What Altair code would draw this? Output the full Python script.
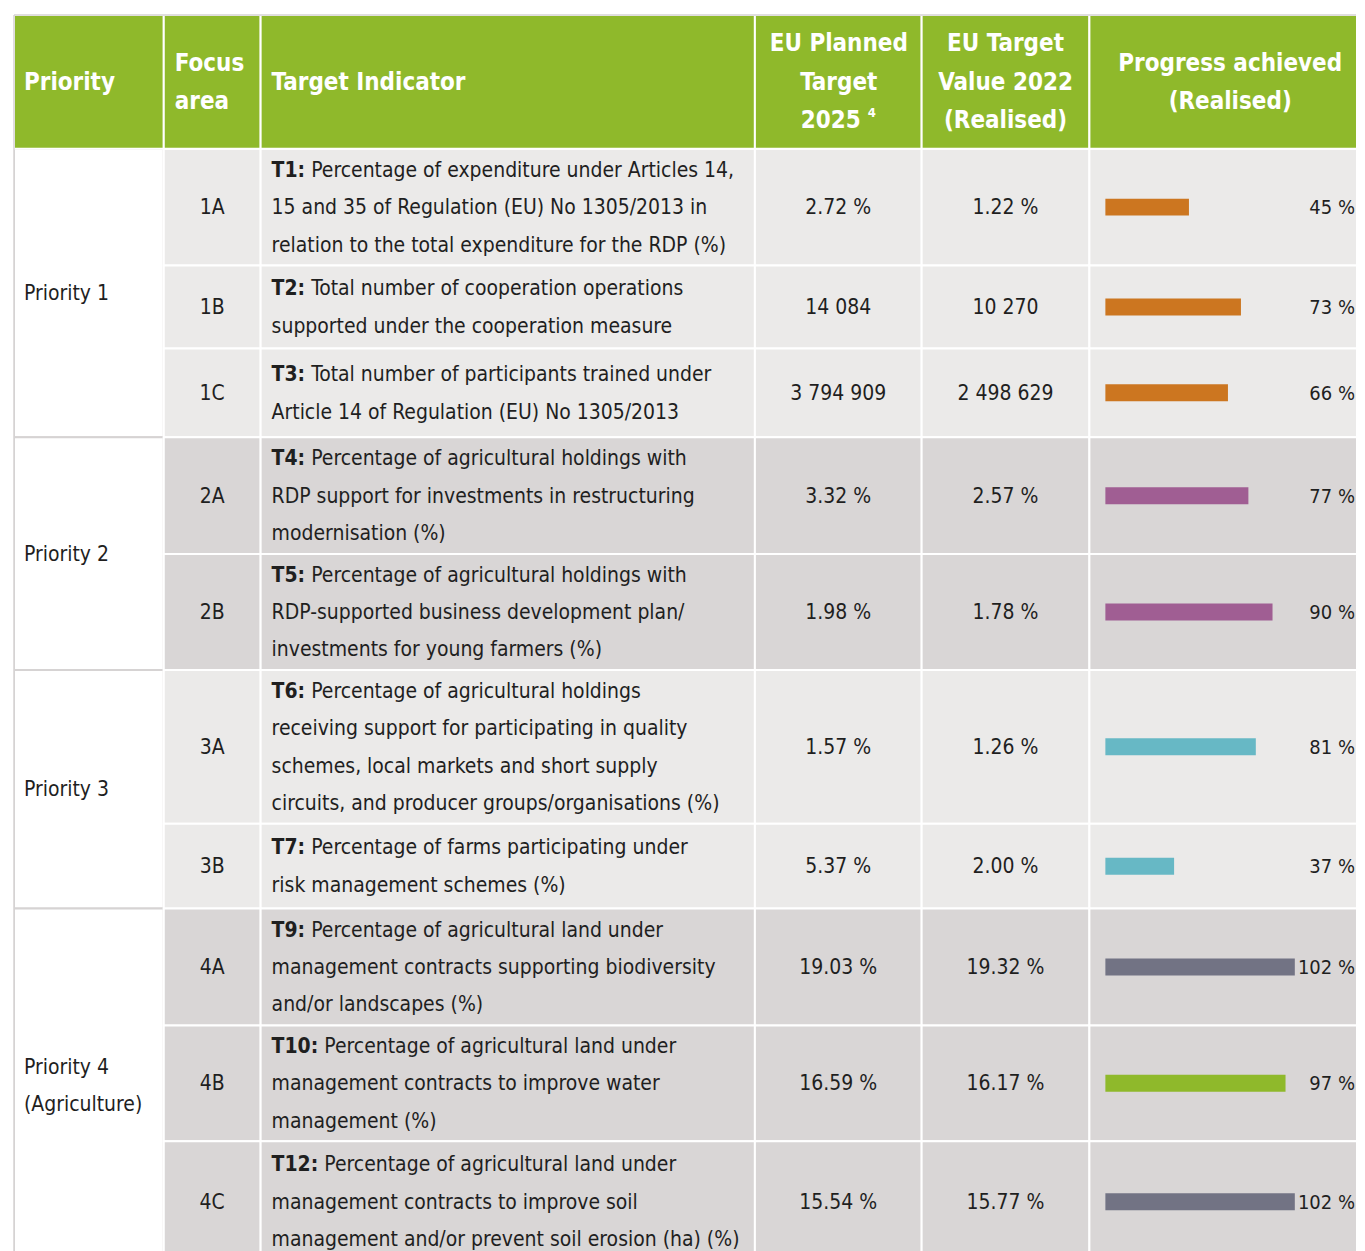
import altair as alt
import pandas as pd

# ---------------- data ----------------
priorities = ["Priority 1", "Priority 2", "Priority 3", "Priority 4|(Agriculture)"]
row_priority = [0, 0, 0, 1, 1, 2, 2, 3, 3, 3]
focus_areas = ["1A", "1B", "1C", "2A", "2B", "3A", "3B", "4A", "4B", "4C"]
codes = ["T1:", "T2:", "T3:", "T4:", "T5:", "T6:", "T7:", "T9:", "T10:", "T12:"]
indicator_lines = [
    ["Percentage of expenditure under Articles 14,",
     "15 and 35 of Regulation (EU) No 1305/2013 in",
     "relation to the total expenditure for the RDP (%)"],
    ["Total number of cooperation operations",
     "supported under the cooperation measure"],
    ["Total number of participants trained under",
     "Article 14 of Regulation (EU) No 1305/2013"],
    ["Percentage of agricultural holdings with",
     "RDP support for investments in restructuring",
     "modernisation (%)"],
    ["Percentage of agricultural holdings with",
     "RDP-supported business development plan/",
     "investments for young farmers (%)"],
    ["Percentage of agricultural holdings",
     "receiving support for participating in quality",
     "schemes, local markets and short supply",
     "circuits, and producer groups/organisations (%)"],
    ["Percentage of farms participating under",
     "risk management schemes (%)"],
    ["Percentage of agricultural land under",
     "management contracts supporting biodiversity",
     "and/or landscapes (%)"],
    ["Percentage of agricultural land under",
     "management contracts to improve water",
     "management (%)"],
    ["Percentage of agricultural land under",
     "management contracts to improve soil",
     "management and/or prevent soil erosion (ha) (%)"],
]
planned_2025 = ["2.72 %", "14 084", "3 794 909", "3.32 %", "1.98 %",
                "1.57 %", "5.37 %", "19.03 %", "16.59 %", "15.54 %"]
realised_2022 = ["1.22 %", "10 270", "2 498 629", "2.57 %", "1.78 %",
                 "1.26 %", "2.00 %", "19.32 %", "16.17 %", "15.77 %"]
progress_pct = [45, 73, 66, 77, 90, 81, 37, 102, 97, 102]

header_cols = [
    ["Priority"],
    ["Focus", "area"],
    ["Target Indicator"],
    ["EU Planned", "Target", "2025"],
    ["EU Target", "Value 2022", "(Realised)"],
    ["Progress achieved", "(Realised)"],
]

# ---------------- style / layout ----------------
FONT = "DejaVu Sans Condensed"
TEXT = "#1f1f1f"
GREEN = "#8FB92B"
LIGHT = "#EBEAE9"
DARK = "#D9D6D6"
BORDER = "#D6D3D3"
bar_colors = ["#CC7620", "#CC7620", "#CC7620", "#A05E93", "#A05E93",
              "#67B8C5", "#67B8C5", "#727384", "#8FB92B", "#727384"]

W, H = 1344, 1249
col_edges = [0, 150, 247, 742, 909, 1077, W]
header_h = 134
row_heights = [117, 83, 89, 117, 116, 154, 85, 117, 116, 121]
LH = 37.5
FS = 21
PFS = 20
HFS = 24
HLH = 38.5

tops = []
t = header_h
for h in row_heights:
    tops.append(t)
    t += h
bottoms = [tp + h for tp, h in zip(tops, row_heights)]
centers = [(a + b) / 2 for a, b in zip(tops, bottoms)]

# ---------------- frames ----------------
header_rects = pd.DataFrame([
    {"x": col_edges[j], "x2": col_edges[j + 1] + (6 if j == 5 else 0), "y": 0, "y2": header_h}
    for j in range(6)
])

cells = []
for i in range(len(focus_areas)):
    fill = LIGHT if row_priority[i] % 2 == 0 else DARK
    for j in range(1, 6):
        cells.append({"x": col_edges[j], "x2": col_edges[j + 1] + (6 if j == 5 else 0),
                      "y": tops[i], "y2": bottoms[i] + (6 if i == 9 else 0), "fill": fill})
cells = pd.DataFrame(cells)

prio_rects = []
prio_labels = []
for g, name in enumerate(priorities):
    rows = [i for i, p in enumerate(row_priority) if p == g]
    y0, y1 = tops[rows[0]], bottoms[rows[-1]]
    prio_rects.append({"x": 0, "x2": col_edges[1], "y": y0, "y2": y1 + (6 if g == 3 else 0)})
    parts = name.split("|")
    for k, part in enumerate(parts):
        prio_labels.append({"x": 10, "y": (y0 + y1) / 2 + 1 + (k - (len(parts) - 1) / 2) * LH,
                            "text": part})
prio_rects = pd.DataFrame(prio_rects)
prio_labels = pd.DataFrame(prio_labels)

# header text
h_left, h_center = [], []
left_x = [10, 161, 258]
center_x = [None, None, None, 826, 993, 1218]
for j, lines in enumerate(header_cols):
    n = len(lines)
    for k, line in enumerate(lines):
        yy = header_h / 2 + 1 + (k - (n - 1) / 2) * HLH
        if j < 3:
            h_left.append({"x": left_x[j], "y": yy, "text": line})
        else:
            xx = center_x[j] - (8 if (j == 3 and k == 2) else 0)
            h_center.append({"x": xx, "y": yy, "text": line})
h_left = pd.DataFrame(h_left)
h_center = pd.DataFrame(h_center)
sup = pd.DataFrame([{"x": 855, "y": header_h / 2 + 1 + HLH - 8, "text": "4"}])

# body text (bold code + regular rest on the first line)
bold_em = {"T": 0.615, ":": 0.36}
for d in "0123456789":
    bold_em[d] = 0.626
SPACE_EM = 0.286
code_rows, rest_rows = [], []
for i, lines in enumerate(indicator_lines):
    n = len(lines)
    for k, line in enumerate(lines):
        yy = centers[i] + 1 + (k - (n - 1) / 2) * LH
        if k == 0:
            cw = (sum(bold_em[c] for c in codes[i]) + SPACE_EM) * FS
            code_rows.append({"x": 258, "y": yy, "text": codes[i]})
            rest_rows.append({"x": 258 + cw, "y": yy, "text": line})
        else:
            rest_rows.append({"x": 258, "y": yy, "text": line})
code_rows = pd.DataFrame(code_rows)
rest_rows = pd.DataFrame(rest_rows)

center_rows = []
for i in range(len(focus_areas)):
    center_rows.append({"x": (col_edges[1] + col_edges[2]) / 2, "y": centers[i] + 1, "text": focus_areas[i]})
    center_rows.append({"x": (col_edges[3] + col_edges[4]) / 2, "y": centers[i] + 1, "text": planned_2025[i]})
    center_rows.append({"x": (col_edges[4] + col_edges[5]) / 2, "y": centers[i] + 1, "text": realised_2022[i]})
center_rows = pd.DataFrame(center_rows)

prog = pd.DataFrame({
    "start": [0] * len(progress_pct),
    "value": progress_pct,
    "label": [f"{v} %" for v in progress_pct],
    "y": [c - 8.5 for c in centers],
    "y2": [c + 8.5 for c in centers],
    "yc": [c + 1 for c in centers],
    "lx": [W - 1] * len(progress_pct),
    "color": bar_colors,
})

# ---------------- chart ----------------
xs = alt.Scale(domain=[0, W], range=[0, W])
ys = alt.Scale(domain=[0, H], reverse=True)


def X(f):
    return alt.X(f, type="quantitative", scale=xs, axis=None)


def Y(f):
    return alt.Y(f, type="quantitative", scale=ys, axis=None)


prio_layer = alt.Chart(prio_rects).mark_rect(
    fill="white", stroke=BORDER, strokeWidth=2, clip=True
).encode(x=X("x"), x2="x2", y=Y("y"), y2="y2")

cell_layer = alt.Chart(cells).mark_rect(
    stroke="white", strokeWidth=2, clip=True
).encode(x=X("x"), x2="x2", y=Y("y"), y2="y2",
         fill=alt.Fill("fill:N", scale=None, legend=None))

header_layer = alt.Chart(header_rects).mark_rect(
    fill=GREEN, stroke="white", strokeWidth=2, clip=True
).encode(x=X("x"), x2="x2", y=Y("y"), y2="y2")

top_rule = alt.Chart(pd.DataFrame({"x": [0], "x2": [W], "y": [0]})).mark_rule(
    color=BORDER, strokeWidth=1.5
).encode(x=X("x"), x2="x2", y=Y("y"))
left_rule = alt.Chart(pd.DataFrame({"x": [0], "y": [0], "y2": [H]})).mark_rule(
    color=BORDER, strokeWidth=1.5
).encode(x=X("x"), y=Y("y"), y2="y2")


def text_layer(df, align, weight="normal", size=FS, color=TEXT):
    return alt.Chart(df).mark_text(
        align=align, baseline="middle", font=FONT, fontSize=size,
        fontWeight=weight, color=color
    ).encode(x=X("x"), y=Y("y"), text="text:N")


hl = text_layer(h_left, "left", "bold", HFS, "white")
hc = text_layer(h_center, "center", "bold", HFS, "white")
hs = text_layer(sup, "left", "bold", 13, "white")
pl = text_layer(prio_labels, "left")
codes_l = text_layer(code_rows, "left", "bold")
rest_l = text_layer(rest_rows, "left")
cen_l = text_layer(center_rows, "center")

bars = alt.Chart(prog).mark_rect().encode(
    x=alt.X("start:Q", scale=alt.Scale(domain=[0, 100], range=[1093, 1279]), axis=None),
    x2="value:Q",
    y=Y("y"), y2="y2",
    fill=alt.Fill("color:N", scale=None, legend=None),
)
plabels = alt.Chart(prog).mark_text(
    align="right", baseline="middle", font=FONT, fontSize=PFS, color=TEXT
).encode(x=X("lx"), y=Y("yc"), text="label:N")

chart = alt.layer(
    prio_layer, cell_layer, header_layer, top_rule, left_rule,
    hl, hc, hs, pl, codes_l, rest_l, cen_l, bars, plabels
).resolve_scale(x="independent").properties(
    width=W, height=H,
    padding={"left": 5, "top": 5, "right": 0, "bottom": 0},
).configure_view(stroke=None)

chart.save("out.html", embed_options={"renderer": "svg", "actions": False})
